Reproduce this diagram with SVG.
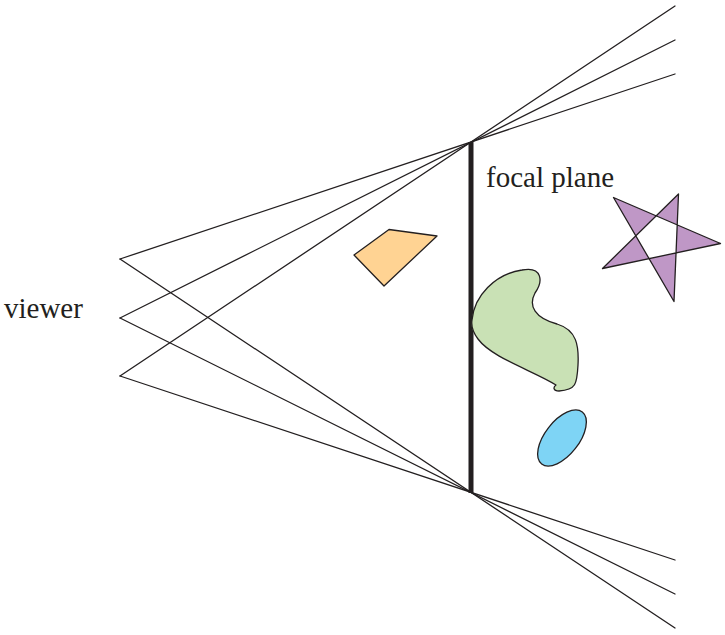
<svg xmlns="http://www.w3.org/2000/svg" width="725" height="635" viewBox="0 0 725 635">
<style>
.ray{stroke:#231f20;stroke-width:1.3;fill:none;stroke-linecap:round}
.shape{stroke:#231f20;stroke-width:1.3;stroke-linejoin:round}
.lbl{font-family:"Liberation Serif","Times New Roman",serif;font-size:29px;fill:#231f20}
</style>
<rect width="725" height="635" fill="#ffffff"/>
<g id="connectors">
<line class="ray" x1="120" y1="259" x2="675" y2="74"/>
<line class="ray" x1="120" y1="318" x2="675" y2="40"/>
<line class="ray" x1="120" y1="376" x2="675" y2="6"/>
<line class="ray" x1="120" y1="259" x2="675" y2="628"/>
<line class="ray" x1="120" y1="318" x2="675" y2="594"/>
<line class="ray" x1="120" y1="376" x2="675" y2="560"/>
</g>
<g id="focal-plane">
<line x1="471" y1="142" x2="471" y2="493" stroke="#231f20" stroke-width="5"/>
<text class="lbl" x="486" y="187">focal plane</text>
</g>
<g id="viewer">
<text class="lbl" x="4" y="318">viewer</text>
</g>
<g id="quad">
<polygon class="shape" fill="#ffd393" points="354,255 389,229.5 437,236 384,286"/>
</g>
<g id="blob">
<path class="shape" fill="#c9e1b5" d="M472,320 C474,296 495,274 522,270 C543,266 543,282 535,293 C528,306 535,318 557,324 C577,330 579,346 578,365 C577,384 576,390 559,391 C553,391 553,387 556,385 C534,371 492,358 478,339 C472,331 471,326 472,320 Z"/>
</g>
<g id="star">
<path class="shape" fill="#bf97c6" fill-rule="evenodd" d="M613.5,197.5 L720.5,243.5 L602.5,268.5 L678.5,194 L674,301.5 Z"/>
</g>
<g id="ellipse">
<ellipse class="shape" fill="#7ed4f5" cx="562" cy="438" rx="33" ry="17" transform="rotate(-52 562 438)"/>
</g>
</svg>
